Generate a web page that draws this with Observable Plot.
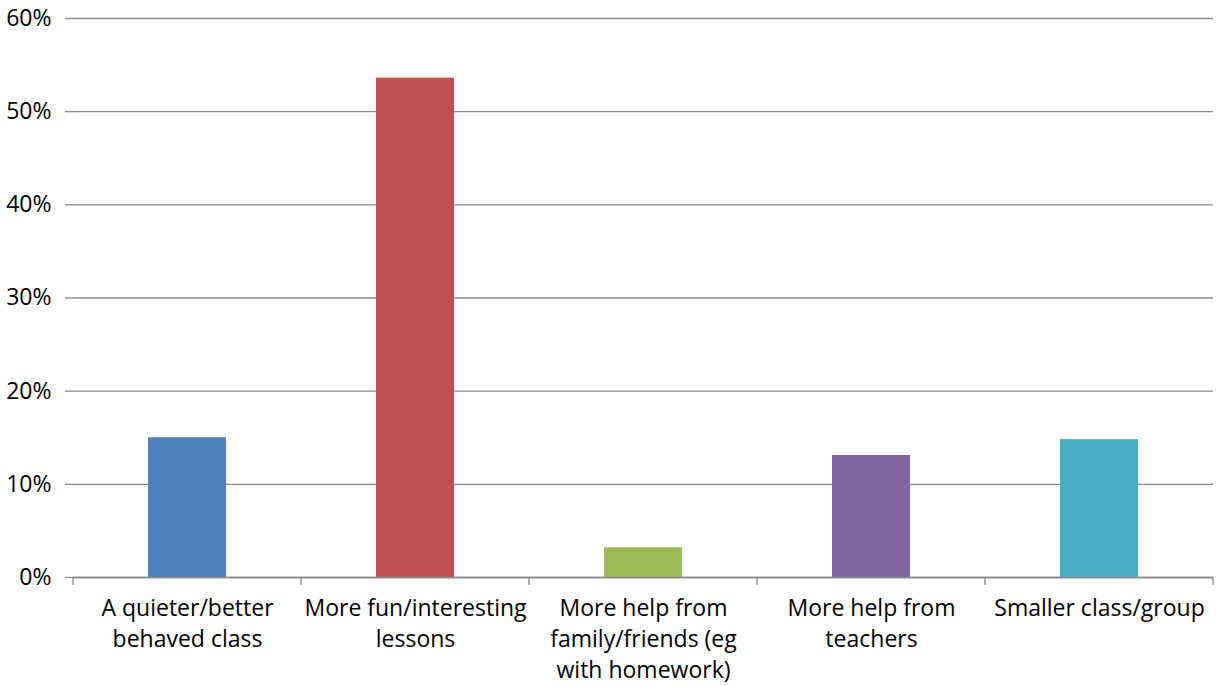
<!DOCTYPE html>
<html>
<head>
<meta charset="utf-8">
<script src="https://cdn.jsdelivr.net/npm/d3@7"></script>
<script src="https://cdn.jsdelivr.net/npm/@observablehq/plot@0.6"></script>
<style>
  html, body { margin: 0; padding: 0; background: #fff; }
  #chart svg { display: block; }
</style>
</head>
<body>
<div id="chart"></div>
<script>
const categories = [
  "A quieter/better behaved class",
  "More fun/interesting lessons",
  "More help from family/friends (eg with homework)",
  "More help from teachers",
  "Smaller class/group"
];
const tickLabels = [
  "A quieter/better\nbehaved class",
  "More fun/interesting\nlessons",
  "More help from\nfamily/friends (eg\nwith homework)",
  "More help from\nteachers",
  "Smaller class/group"
];
const values = [0.150, 0.536, 0.032, 0.131, 0.148];
const yTicks = [0, 0.1, 0.2, 0.3, 0.4, 0.5, 0.6];
const palette = ["#4F81BD", "#C0504D", "#9BBB59", "#8064A2", "#4BACC6"];

const data = categories.map((c, i) => ({category: c, value: values[i]}));
const labelOf = new Map(categories.map((c, i) => [c, tickLabels[i]]));
const gridColor = "#878787";

// category boundary ticks below the baseline, computed from the x scale
function boundaryTicks(index, scales, values, dimensions) {
  const x = scales.x;
  const step = x.step();
  const bw = x.bandwidth();
  const g = d3.create("svg:g");
  const y0 = dimensions.height - dimensions.marginBottom;
  const edges = [];
  categories.forEach((c, i) => {
    const center = x(c) + bw / 2;
    if (i === 0) edges.push(center - step / 2);
    edges.push(center + step / 2);
  });
  for (const e of edges) {
    g.append("line")
      .attr("x1", e).attr("x2", e)
      .attr("y1", y0).attr("y2", y0 + 8)
      .attr("stroke", gridColor).attr("stroke-width", 1.3);
  }
  return g.node();
}

const chart = Plot.plot({
  width: 1228,
  height: 686,
  marginLeft: 73,
  marginRight: 15,
  marginTop: 18,
  marginBottom: 109,
  style: {fontFamily: "'Open Sans', sans-serif", fontSize: "23px", color: "#000", background: "#fff"},
  x: {domain: categories, paddingInner: 0.66, paddingOuter: 0.33, label: null},
  y: {domain: [0, 0.6], label: null},
  color: {domain: categories, range: palette},
  marks: [
    Plot.gridY(yTicks, {stroke: gridColor, strokeOpacity: 1, strokeWidth: 1.3}),
    Plot.barY(data, {x: "category", y: "value", fill: "category"}),
    Plot.ruleY([0], {stroke: gridColor, strokeWidth: 1.3}),
    Plot.ruleX([null], {frameAnchor: "left", stroke: gridColor, strokeWidth: 1.3}),
    Plot.axisY({ticks: yTicks, tickFormat: d3.format(".0%"), tickSize: 8, tickPadding: 14,
      stroke: gridColor, strokeWidth: 1.3, fontSize: 23, fill: "#000", label: null}),
    Plot.axisX({tickFormat: d => labelOf.get(d), tickSize: 0, tickPadding: 16,
      lineHeight: 1.36, fontSize: 23, fill: "#000", label: null}),
    boundaryTicks
  ]
});
document.getElementById("chart").appendChild(chart);
</script>
</body>
</html>
